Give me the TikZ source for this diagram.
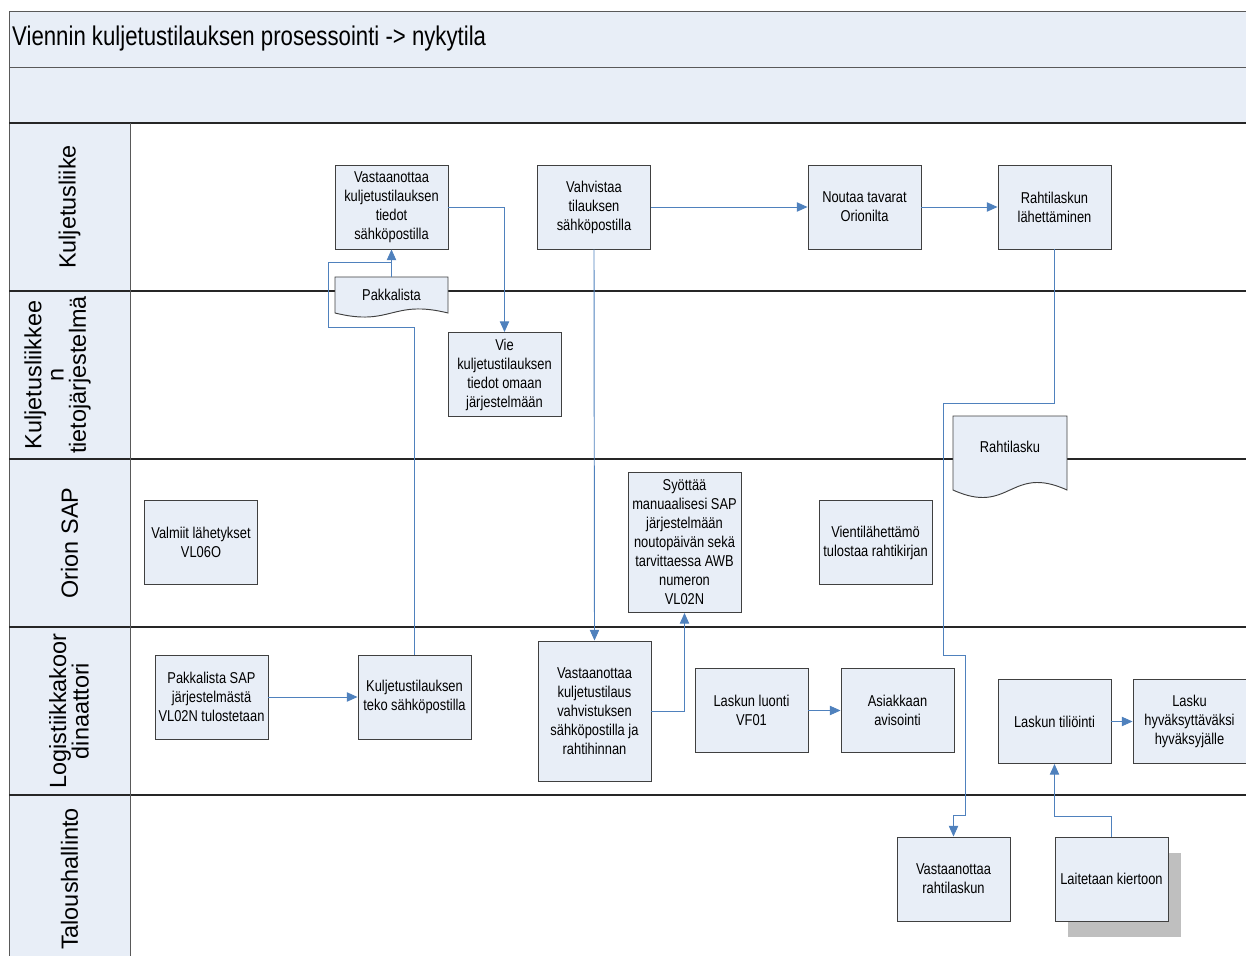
\documentclass[tikz,border=0pt]{standalone}
\usepackage{fontspec}
\setmainfont{Liberation Sans}
\newfontfamily\narrowfont{Liberation Sans}[FakeStretch=0.82]
\usetikzlibrary{arrows.meta,calc}
\definecolor{paleblue}{RGB}{232,238,247}
\definecolor{boxline}{RGB}{64,64,64}
\definecolor{flowblue}{RGB}{79,129,189}
\definecolor{shadowgray}{RGB}{191,191,191}
\tikzset{
  task box/.style={draw=boxline,fill=paleblue,line width=0.8pt,minimum width=3.39cm,minimum height=2.52cm,inner sep=1pt,align=center,font=\narrowfont\fontsize{13.4}{16.2}\selectfont},
  tall box/.style={task box,minimum height=4.2cm},
  doc text/.style={minimum width=3.39cm,inner sep=0pt,align=center,font=\narrowfont\fontsize{13.4}{16.2}\selectfont},
  doc shape/.style={draw=boxline,fill=paleblue,line width=0.8pt},
  flow edge/.style={flowblue,line width=0.8pt},
  flow arrow/.style={flow edge,-{Triangle[length=3.2mm,width=2.8mm]}},
  lane line/.style={black!85,line width=1.2pt},
  frame line/.style={black!65,line width=0.8pt},
  lane label/.style={rotate=90,align=center,inner sep=0pt,font=\fontsize{20}{19}\selectfont},
}

\begin{document}
\begin{tikzpicture}[x=0.03cm,y=-0.03cm]
  \useasboundingbox (0,0) rectangle (1246,956);
  % swimlane frame
  \fill[paleblue] (9,11) rectangle (1246,123);
  \fill[paleblue] (9,123) rectangle (130,956);
  \draw[frame line] (1246,11) -- (9,11) -- (9,956);
  \draw[frame line] (9,67) -- (1246,67);
  \draw[lane line] (9,123) -- (1246,123);
  \foreach \y in {291,459,627,795}
    \draw[lane line] (9,\y) -- (1246,\y);
  \draw[frame line] (130,123) -- (130,956);
  \node[anchor=west,inner sep=0pt,font=\narrowfont\fontsize{23.1}{27}\selectfont] (title) at (12,39) {Viennin kuljetustilauksen prosessointi -> nykytila};
  \node[lane label] (kuljetus) at (69.5,207) {Kuljetusliike};
  \node[lane label] (kuljtj) at (57.5,375) {Kuljetusliikkee\\n\\tietojärjestelmä};
  \node[lane label] (orionsap) at (69.5,543) {Orion SAP};
  \node[lane label] (logkoord) at (69,711) {Logistiikkakoor\\dinaattori};
  \node[lane label] (talous) at (69.5,879) {Taloushallinto};

  % documents
  \draw[doc shape] (335,313) -- (335,277) -- (448,277) -- (448,313) .. controls (391.5,299) and (391.5,327) .. (335,313) -- cycle;
  \node[doc text,minimum height=1.08cm] (pakka) at (391.5,295) {Pakkalista};
  \draw[doc shape] (953,490) -- (953,416) -- (1067,416) -- (1067,490) .. controls (1010,464) and (1010,516) .. (953,490) -- cycle;
  \node[doc text] (rahtidoc) at (1010,447) {Rahtilasku};

  % tasks
  \node[task box] (vast1) at (391.5,207) {Vastaanottaa\\kuljetustilauksen\\tiedot\\sähköpostilla};
  \node[task box] (vahv) at (594,207) {Vahvistaa\\tilauksen\\sähköpostilla};
  \node[task box] (nouta) at (864.5,207) {Noutaa tavarat\\Orionilta};
  \node[task box] (rlahet) at (1054.5,207) {Rahtilaskun\\lähettäminen};
  \node[task box] (vie) at (504.5,374.5) {Vie\\kuljetustilauksen\\tiedot omaan\\järjestelmään};
  \node[task box] (valmiit) at (201,542.5) {Valmiit lähetykset\\VL06O};
  \node[tall box] (syotta) at (684.5,542.5) {Syöttää\\manuaalisesi SAP\\järjestelmään\\noutopäivän sekä\\tarvittaessa AWB\\numeron\\VL02N};
  \node[task box] (vientil) at (875.5,542.5) {Vientilähettämö\\tulostaa rahtikirjan};
  \node[task box] (pakksap) at (211.5,697) {Pakkalista SAP\\järjestelmästä\\VL02N tulostetaan};
  \node[task box] (kteko) at (414.5,697) {Kuljetustilauksen\\teko sähköpostilla};
  \node[tall box] (vvahv) at (594.5,711) {Vastaanottaa\\kuljetustilaus\\vahvistuksen\\sähköpostilla ja\\rahtihinnan};
  \node[task box] (lluonti) at (751.5,710.5) {Laskun luonti\\VF01};
  \node[task box] (avis) at (897.5,710.5) {Asiakkaan\\avisointi};
  \node[task box] (tilio) at (1054.5,721.5) {Laskun tiliöinti};
  \node[task box] (hyvak) at (1189.5,721.5) {Lasku\\hyväksyttäväksi\\hyväksyjälle};
  \node[task box] (vrahti) at (953.5,879) {Vastaanottaa\\rahtilaskun};
  \fill[shadowgray] (1068,853) rectangle (1181,937);
  \node[task box] (kierto) at (1111.5,879) {Laitetaan kiertoon};

  % flows
  \coordinate (pjoin) at (391.5,262);
  \draw[flow arrow] (vast1.east) -| (vie.north);
  \draw[flow arrow] (pakka.north) -- (vast1.south);
  \draw[flow edge] (kteko.north) |- (328,327) |- (pjoin);
  \draw[flow arrow] (vahv.east) -- (nouta.west);
  \draw[flow arrow] (nouta.east) -- (rlahet.west);
  \draw[flow arrow] (vahv.south) -- (vvahv.north);
  \draw[flow arrow] (vvahv.east) -| (syotta.south);
  \draw[flow arrow] (rlahet.south) |- (943,403) |- (965,655) |- (953.5,815) -- (vrahti.north);
  \draw[flow arrow] (pakksap.east) -- (kteko.west);
  \draw[flow arrow] (lluonti.east) -- (avis.west);
  \draw[flow arrow] (tilio.east) -- (hyvak.west);
  \draw[flow arrow] (kierto.north) |- ($(tilio.south)+(0,52)$) -- (tilio.south);
\end{tikzpicture}
\end{document}
